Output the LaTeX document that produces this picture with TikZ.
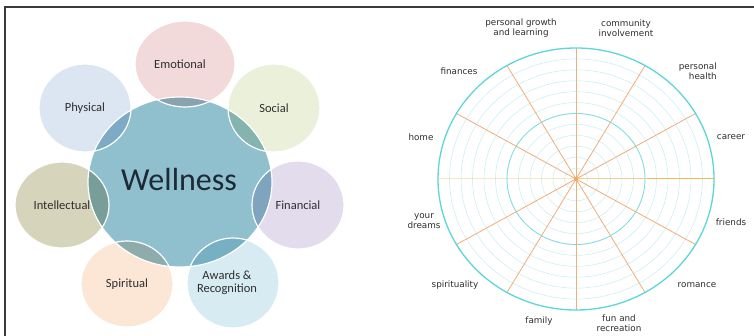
\documentclass[tikz,border=0pt]{standalone}
\usepackage{fontspec}
\usetikzlibrary{calc}
\setmainfont{Carlito}
\newfontfamily\wheelfont{DejaVu Sans}
\definecolor{wellcol}{HTML}{90BFCE}
\definecolor{emocol}{HTML}{F2D9DA}
\definecolor{soccol}{HTML}{EAF0DA}
\definecolor{phycol}{HTML}{DCE5F2}
\definecolor{intcol}{HTML}{D7D4BC}
\definecolor{fincol}{HTML}{E2DCEC}
\definecolor{spicol}{HTML}{FCE6D6}
\definecolor{awacol}{HTML}{D6EBF2}
\definecolor{labgray}{HTML}{2E2E2E}
\definecolor{welltext}{HTML}{1B2A36}
\definecolor{ringcol}{HTML}{5CD6DA}
\definecolor{faintring}{HTML}{C6EEF1}
\definecolor{spokecol}{HTML}{F0AE78}
\definecolor{hspokecol}{HTML}{F2B95A}
\definecolor{framecol}{HTML}{3A3A3A}
\begin{document}
\begin{tikzpicture}[x=1pt,y=-1pt,
  petal/.style={font=\fontsize{12.5}{13}\selectfont, text=labgray, align=center, inner sep=0pt},
  wheellabel/.style={font=\wheelfont\fontsize{8.8}{10}\selectfont, text=labgray, inner sep=0pt},
  rim/.style={draw=white, line width=1.2pt},
  spoke/.style={draw=spokecol, line width=0.8pt}]
\useasboundingbox (0,0) rectangle (754,336);
\fill[white] (0,0) rectangle (754,336);
% frame
\draw[framecol, line width=1.5pt] (5,336) -- (5,7) -- (754,7);

% ---------- left: wellness ----------
\fill[wellcol] (180,182) ellipse [x radius=92pt, y radius=85pt];
\begin{scope}[blend mode=multiply]
\fill[emocol] (185,64) ellipse [x radius=50pt, y radius=43pt];
\fill[soccol] (274,108) ellipse [x radius=46pt, y radius=44pt];
\fill[phycol] (85,108) ellipse [x radius=46pt, y radius=44pt];
\fill[intcol] (62,205) ellipse [x radius=47pt, y radius=43pt];
\fill[fincol] (298,205) ellipse [x radius=46pt, y radius=44pt];
\fill[spicol] (127,284) ellipse [x radius=46pt, y radius=43pt];
\fill[awacol] (233,283) ellipse [x radius=46pt, y radius=45pt];
\end{scope}
\draw[rim] (180,182) ellipse [x radius=92pt, y radius=85pt];
\draw[rim] (185,64) ellipse [x radius=50pt, y radius=43pt];
\draw[rim] (274,108) ellipse [x radius=46pt, y radius=44pt];
\draw[rim] (85,108) ellipse [x radius=46pt, y radius=44pt];
\draw[rim] (62,205) ellipse [x radius=47pt, y radius=43pt];
\draw[rim] (298,205) ellipse [x radius=46pt, y radius=44pt];
\draw[rim] (127,284) ellipse [x radius=46pt, y radius=43pt];
\draw[rim] (233,283) ellipse [x radius=46pt, y radius=45pt];

\node[font=\fontsize{32}{34}\selectfont, text=welltext, inner sep=0pt] (well) at (179,180) {Wellness};
\node[petal] (emo) at (180,64) {Emotional};
\node[petal] (soc) at (274,108) {Social};
\node[petal] (phy) at (85,108) {Physical};
\node[petal] (int) at (62,205) {Intellectual};
\node[petal] (fin) at (298,205) {Financial};
\node[petal] (spi) at (127,284) {Spiritual};
\node[petal] (awa) at (227,283) {Awards \&\\Recognition};

% ---------- right: wheel ----------
\coordinate (wc) at (576,179);
\foreach \k in {1,...,11}{
  \draw[faintring, line width=0.5pt] (wc) ellipse [x radius={138pt*\k/12}, y radius={131pt*\k/12}];
}
\draw[ringcol!80, line width=0.8pt] (wc) ellipse [x radius=69pt, y radius=65.5pt];
\foreach \a in {30,60,90,120,150,210,240,270,300,330}{
  \coordinate (s\a) at ($(wc)+({138*cos(\a)},{-131*sin(\a)})$);
}
\coordinate (s0) at (714,179);
\coordinate (s180) at (438,179);
\draw[hspokecol, line width=1pt] (s180) -- (wc) -- (s0);
\foreach \a in {30,60,90,120,150,210,240,270,300,330}{
  \draw[spoke] (wc) -- (s\a);
}
\draw[ringcol, line width=1.3pt] (wc) ellipse [x radius=138pt, y radius=131pt];
\fill[spokecol!80!orange] (wc) circle [radius=2pt];

\node[wheellabel, align=center] (pg) at (521,28) {personal growth\\and learning};
\node[wheellabel, align=center] (ci) at (626,28) {community\\involvement};
\node[wheellabel, align=right, anchor=east] (ph) at (717,71) {personal\\health};
\node[wheellabel] (fi) at (459,71) {finances};
\node[wheellabel] (ho) at (421,137) {home};
\node[wheellabel] (ca) at (731,137) {career};
\node[wheellabel, align=center] (yd) at (424,221) {your\\dreams};
\node[wheellabel] (fr) at (731,222) {friends};
\node[wheellabel] (sp) at (455,285) {spirituality};
\node[wheellabel] (ro) at (697,285) {romance};
\node[wheellabel] (fa) at (539,321) {family};
\node[wheellabel, align=center] (fu) at (619,323) {fun and\\recreation};
\end{tikzpicture}
\end{document}
